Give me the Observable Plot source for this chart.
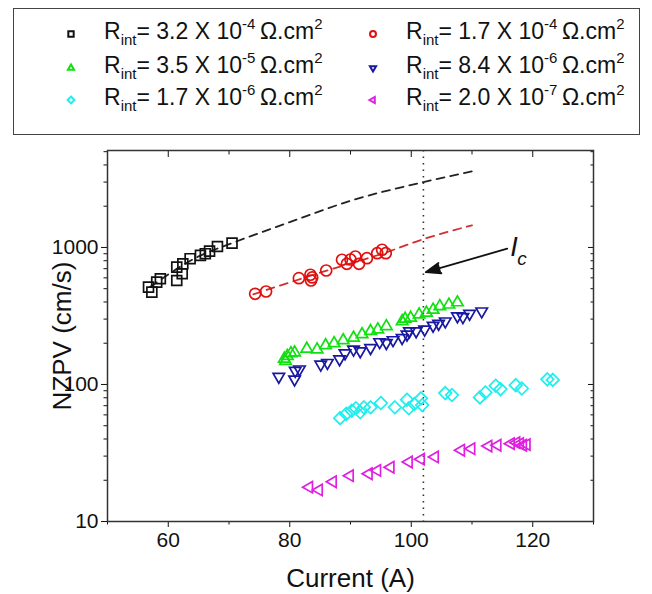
<!DOCTYPE html>
<html><head><meta charset="utf-8">
<script src="https://cdn.jsdelivr.net/npm/d3@7"></script>
<script src="https://cdn.jsdelivr.net/npm/@observablehq/plot@0.6"></script>
<style>
body{margin:0;background:#fff;font-family:"Liberation Sans",Arial,sans-serif;}
#wrap{position:relative;width:652px;height:594px;overflow:hidden;}
#legend{position:absolute;left:13px;top:8px;width:627px;height:127px;border:1.5px solid #444;box-sizing:border-box;}
.item{position:absolute;font-size:23px;white-space:nowrap;line-height:1;color:#111;}
.item sub{font-size:15px;vertical-align:-6px;line-height:0;}
.item sup{font-size:15px;vertical-align:10px;line-height:0;}
.sym{position:absolute;}
#chart{position:absolute;left:0;top:140px;}
</style></head>
<body><div id="wrap"><div id="legend"></div><div id="chart"></div></div>
<script>
// ---------- data ----------
const seriesNames = ["black","red","green","blue","cyan","magenta"];
const rintMantissa = ["3.2","1.7","3.5","8.4","1.7","2.0"];
const rintExponent = ["-4","-4","-5","-6","-6","-7"];
const seriesColors = ["#111111","#e01010","#10e010","#1818a0","#20eeee","#e020e0"];

const blackX = [56.75,57.3,58.1,58.7,61.4,61.4,62.3,62.4,63.6,65.3,66.1,66.8,68.1,70.5];
const blackY = [513,472,558,591,718,574,643,760,828,875,900,940,1016,1075];
const redX = [74.3,76.1,81.5,83.4,83.5,83.7,86.0,88.6,89.4,90.0,90.8,91.4,92.7,94.4,95.2,95.8];
const redY = [459,477,597,632,574,604,679,813,760,817,859,760,835,908,962,908];
const greenX = [79.1,79.3,79.6,80.2,80.8,82.8,84.5,85.9,87.3,88.8,90.5,91.9,93.3,94.5,95.9,98.5,99.0,99.9,101.3,102.5,103.6,104.7,106.2,107.6];
const greenY = [154,148,161,169,171,182,180,193,200,210,219,232,245,252,266,289,301,306,324,333,351,372,382,397];
const blueX = [78.2,80.8,80.9,81.6,85.1,86.2,88.2,89.1,90.5,91.6,93.3,94.8,95.9,97.0,98.5,99.3,99.7,100.8,102.2,103.6,104.5,105.6,107.6,108.5,109.6,111.6];
const blueY = [114,109,126,129,140,144,153,169,180,175,185,204,201,211,219,232,245,245,252,269,278,289,315,311,329,342];
const cyanX = [88.3,89.3,90.2,90.9,91.6,92.2,93.3,95.0,97.3,99.3,99.6,100.5,101.6,101.8,105.6,106.7,111.3,112.2,113.9,114.7,117.2,118.2,122.4,123.3];
const cyanY = [56.8,61.0,64.4,67.0,62.7,68.1,68.1,73.2,68.1,77.4,67.0,72.0,79.2,70.8,86.5,83.7,80.5,87.5,97.8,92.5,98.9,93.5,109,108];
const magentaX = [83.2,84.8,87.1,89.9,93.0,94.4,96.6,99.6,101.6,103.9,108.2,109.9,112.7,114.2,116.4,117.3,117.9,118.4,119.0];
const magentaY = [17.8,17.0,19.5,21.6,22.3,23.6,24.9,27.2,28.5,29.6,33.1,34.0,35.5,36.0,37.0,37.6,37.0,36.0,36.4];

const blackFitX = [57,65,70.5,80,90,102,110];
const blackFitY = [515,860,1075,1530,2190,3000,3590];
const redFitX = [74,85,96,102,110];
const redFitY = [455,655,925,1150,1450];

const icX = [102];
const arrowFrom = [115.8, 980];
const arrowTo = [102.4, 660];
const icLabelPos = [116.9, 1000];

const xMajor = [60,80,100,120];
const xMinor = [50,70,90,110,130];
const yMajor = [10,100,1000];
const yMinor = [20,30,40,50,60,70,80,90,200,300,400,500,600,700,800,900,2000,3000,4000,5000];

// ---------- symbols ----------
const K = (size) => Math.sqrt(size/Math.PI);
const symSquare = {draw(c,s){const h=K(s)*0.9;c.moveTo(-h,-h);c.lineTo(h,-h);c.lineTo(h,h);c.lineTo(-h,h);c.closePath();}};
const symCircle = {draw(c,s){const r=K(s);c.moveTo(r,0);c.arc(0,0,r,0,2*Math.PI);}};
const symUp = {draw(c,s){const r=K(s)*1.2;c.moveTo(0,-r);c.lineTo(r*0.866,r*0.5);c.lineTo(-r*0.866,r*0.5);c.closePath();}};
const symDown = {draw(c,s){const r=K(s)*1.2;c.moveTo(0,r);c.lineTo(r*0.866,-r*0.5);c.lineTo(-r*0.866,-r*0.5);c.closePath();}};
const symDiamond = {draw(c,s){const r=K(s)*1.15;c.moveTo(0,-r);c.lineTo(r,0);c.lineTo(0,r);c.lineTo(-r,0);c.closePath();}};
const symLeft = {draw(c,s){const r=K(s)*1.2;c.moveTo(-r,0);c.lineTo(r*0.5,-r*0.866);c.lineTo(r*0.5,r*0.866);c.closePath();}};
const symbols = [symSquare,symCircle,symUp,symDown,symDiamond,symLeft];

const xs = [blackX,redX,greenX,blueX,cyanX,magentaX];
const ys = [blackY,redY,greenY,blueY,cyanY,magentaY];

// ---------- legend ----------
const legend = document.getElementById("legend");
const colSym = [57, 359], colText = [90, 392], rowY = [25, 59, 91];
seriesNames.forEach((n,i)=>{
  const col = i%2, row = Math.floor(i/2);
  const svg = d3.create("svg").attr("class","sym").attr("width",16).attr("height",16)
    .style("left",(colSym[col]-8)+"px").style("top",(rowY[row]-8)+"px");
  svg.append("path").attr("transform","translate(8,8)")
    .attr("d", d3.symbol(symbols[i], 28)())
    .attr("fill","none").attr("stroke",seriesColors[i]).attr("stroke-width",2);
  legend.appendChild(svg.node());
  const t = document.createElement("div");
  t.className="item";
  t.style.left = colText[col]+"px"; t.style.top = (rowY[row]-14)+"px";
  t.innerHTML = `R<sub>int</sub>= ${rintMantissa[i]} X 10<sup>${rintExponent[i]}</sup>&thinsp;Ω.cm<sup>2</sup>`;
  legend.appendChild(t);
});

// ---------- chart ----------
const marks = [];
marks.push(Plot.line(blackFitX.map((x,i)=>({x,y:blackFitY[i]})),{x:"x",y:"y",curve:"monotone-x",stroke:"#222",strokeWidth:1.8,strokeDasharray:"8,6"}));
marks.push(Plot.line(redFitX.map((x,i)=>({x,y:redFitY[i]})),{x:"x",y:"y",curve:"monotone-x",stroke:"#d03030",strokeWidth:1.8,strokeDasharray:"8,6"}));
marks.push(Plot.ruleX(icX,{stroke:"#333",strokeWidth:1.6,strokeDasharray:"1.5,5"}));
xs.forEach((X,i)=>{
  marks.push(Plot.dot(X.map((x,j)=>({x,y:ys[i][j]})),{x:"x",y:"y",symbol:()=>symbols[i],r:5.5,stroke:seriesColors[i],strokeWidth:1.7,fill:"none"}));
});
marks.push(Plot.arrow([{x1:arrowFrom[0],y1:arrowFrom[1],x2:arrowTo[0],y2:arrowTo[1]}],{x1:"x1",y1:"y1",x2:"x2",y2:"y2",stroke:"#111",fill:"#111",strokeWidth:1.8,headLength:13,headAngle:40}));
marks.push(Plot.text(["I"],{x:()=>icLabelPos[0],y:()=>icLabelPos[1],fontStyle:"italic",fontSize:27,fill:"#111"}));
marks.push(Plot.text(["c"],{x:()=>icLabelPos[0],y:()=>icLabelPos[1],dx:8,dy:11,fontStyle:"italic",fontSize:19,fill:"#111"}));
// axes
marks.push(Plot.axisX({anchor:"bottom",ticks:xMajor,tickSize:6,tickPadding:5,label:null,fontSize:21}));
marks.push(Plot.axisX({anchor:"bottom",ticks:xMinor,tickSize:3.5,text:null,label:null}));
marks.push(Plot.axisX({anchor:"top",ticks:xMajor,tickSize:-6,text:null,label:null}));
marks.push(Plot.axisX({anchor:"top",ticks:xMinor,tickSize:-3.5,text:null,label:null}));
marks.push(Plot.axisY({anchor:"left",ticks:yMajor,tickSize:6,tickPadding:3,tickFormat:d=>String(d),label:null,fontSize:21}));
marks.push(Plot.axisY({anchor:"left",ticks:yMinor,tickSize:3.5,text:null,label:null}));
marks.push(Plot.axisY({anchor:"right",ticks:yMajor,tickSize:-6,text:null,label:null}));
marks.push(Plot.axisY({anchor:"right",ticks:yMinor,tickSize:-3.5,text:null,label:null}));
marks.push(Plot.frame({stroke:"#333",strokeWidth:1.5}));
marks.push(Plot.text(["Current (A)"],{frameAnchor:"bottom",textAnchor:"middle",lineAnchor:"middle",dy:57,fontSize:26,fill:"#111"}));
marks.push(Plot.text(["NZPV (cm/s)"],{frameAnchor:"left",textAnchor:"middle",lineAnchor:"middle",dx:-45,rotate:-90,fontSize:26,fill:"#111"}));

const chart = Plot.plot({
  width:652, height:454,
  marginTop:10, marginBottom:73, marginLeft:107, marginRight:59,
  style:{fontFamily:"'Liberation Sans', Arial, sans-serif",background:"#fff",color:"#111",overflow:"visible"},
  x:{domain:[50,130]},
  y:{type:"log",domain:[10,5100]},
  marks
});
document.getElementById("chart").appendChild(chart);
</script></body></html>
